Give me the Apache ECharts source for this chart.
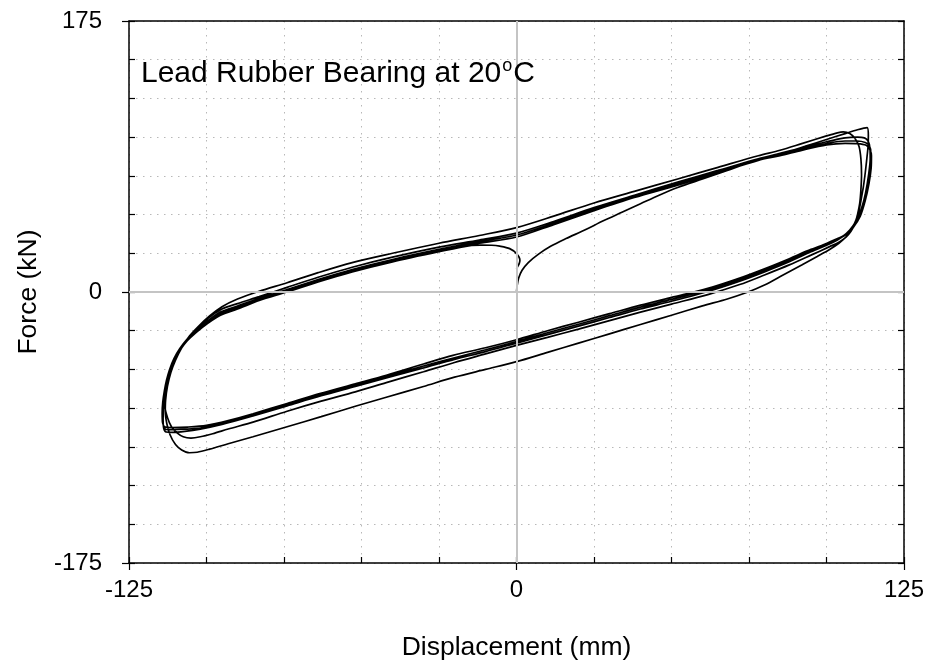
<!DOCTYPE html>
<html>
<head>
<meta charset="utf-8">
<script src="https://cdn.jsdelivr.net/npm/echarts@6/dist/echarts.min.js"></script>
<style>
  html, body { margin: 0; padding: 0; background: #fff; }
  #chart { width: 930px; height: 666px; }
</style>
</head>
<body>
<div id="chart"></div>
<script>
// Axis ranges and labelled ticks
const xRange = [-125, 125];
const yRange = [-175, 175];
const xLabelStep = 125;
const yLabelStep = 175;
const gridStep = 25;

// Hysteresis record, [displacement mm, force kN], in test order
const initialLoading = [
  [0,0],[0.2,4],[0.7,9],[1.8,14],[3.8,19],[7,24.3],[11,29.5],[16,34.5],[22,40],[28,46],
  [34,51.5],[40,57],[46,62.5],[52,67.5],[60,73],[68,78.5],[76,84],[85,89],[93,94],
  [100,98.5],[106,102.3],[110,104.8],[113.1,106.2]
];
const unload1 = [
  [113.5,101],[113.4,94],[113,86],[112.5,77],[111.9,68],[111.2,60],[110.5,53],[109.5,46.5],
  [108.2,41],[106.5,36],[104,31.5],[101,27.5],[97,23],[92,17.5],[86,11],[80,4.5],[74,-0.5],
  [68,-4.5],[60,-9],[50,-15],[40,-21],[30,-27],[20,-33],[10,-39],[0,-45],[-10,-50],[-20,-55],
  [-30,-61],[-42,-68],[-52,-73.8],[-63,-80.5],[-74,-87],[-85,-93.5],[-93,-98],[-99,-101.5],
  [-103,-103.5],[-105.5,-103.8],[-108,-102],[-110,-98.5],[-111.8,-92],[-112.8,-85]
];
const load1 = [
  [-113.3,-77],[-113.2,-70],[-112.6,-61],[-111.5,-52],[-110,-44],[-108,-36],[-105.5,-28.5],
  [-102.5,-22],[-99,-15.5],[-95,-9.5],[-90,-4.5],[-83,0.5],[-74,6],[-64,12.5],[-53,19],
  [-40,25],[-25,31.5],[-12,36.5],[0,41.6],[12,49],[25,57.5],[38,65],[52,73],[65,80.5],
  [78,88],[85,91.5],[92,95.8],[100,100.8],[103.5,102.8],[105.4,103.4],[107.5,102.3],
  [109.2,99.1],[110.5,94],[111.1,86],[111.3,76],[111.1,66],[110.7,57],[110,50],[109.2,44.2],
  [107.9,39.2],[106.3,35.5],[104,32.2],[101,29.3]
];
const unload2 = [
  [95,23.8],[88,17.5],[80,11],[72,4.8],[62,-1.5],[50,-7.8],[40,-13],[30,-18.5],[20,-24],
  [10,-29.3],[0,-34.5],[-10,-40],[-20,-45.5],[-30,-51.5],[-42,-58.5],[-52,-64.5],[-63,-70.5],
  [-74,-77],[-85,-84],[-93,-88.5],[-98,-91.5],[-102,-93.5],[-105,-94.3],[-107.5,-93.5],
  [-109.5,-91],[-111.3,-87],[-112.6,-81]
];
const load2 = [
  [-113.4,-74],[-113.2,-66],[-112.6,-59],[-111.6,-51],[-110.2,-44],[-108.3,-37],[-106,-30.5],
  [-103,-24.5],[-99.5,-17],[-95,-11],[-90,-7.5],[-83,-3],[-74,3],[-64,9.5],[-53,16],
  [-40,22.5],[-25,29],[-12,33.5],[0,38],[12,45.5],[25,54.5],[38,62.5],[52,71],[65,78.5],
  [78,86],[85,89.5],[92,93],[100,97],[106,99.5],[110,100],[112.2,99.5],[113.4,97.5],
  [114,93],[114.1,86],[113.6,76],[112.6,64],[111.3,54],[109.6,46],[107.5,40],[105,35.5],
  [102,32]
];
const unload3 = [
  [95,26],[88,19.5],[80,13],[72,7],[62,0.5],[50,-6],[40,-11],[30,-16.5],[20,-22],[10,-27.5],
  [0,-33],[-10,-38.5],[-20,-43.5],[-30,-49],[-42,-55.5],[-52,-61],[-63,-67],[-74,-73.5],
  [-85,-80],[-95,-85.5],[-102,-88.5],[-107,-90],[-111,-90.6],[-113,-90.4],[-113.8,-88],
  [-114,-82]
];
const load3 = [
  [-113.9,-75],[-113.5,-67],[-112.8,-59],[-111.8,-51],[-110.4,-44],[-108.5,-37],[-106.2,-31],
  [-103.3,-25],[-99.8,-19],[-95.5,-13],[-90,-9],[-83,-4],[-74,1.5],[-64,8],[-53,14.5],
  [-40,21],[-25,27.5],[-12,32.5],[0,36.8],[12,44.5],[25,53.5],[38,61.5],[52,70],[65,77.5],
  [78,85.5],[85,88.5],[92,92],[100,95.8],[106,97.5],[110,97.5],[112.5,96.5],[113.8,94.5],
  [114.3,90],[114.3,83],[113.8,74],[112.8,62],[111.4,52],[109.6,44.5],[107.5,39],[105,35.5],
  [102.5,33]
];
const unload4 = [
  [95,27.5],[88,21.5],[80,15],[72,9],[62,2.5],[50,-3.5],[40,-8.5],[30,-14],[20,-19.5],
  [10,-25],[0,-30.8],[-10,-36],[-20.5,-40.9],[-30,-46.5],[-42,-53.8],[-52,-59.3],[-63.5,-65.6],
  [-74,-72],[-85,-78.6],[-93,-83],[-100,-86.1],[-106,-87.2],[-111,-87.5],[-113.3,-87.2],
  [-114.2,-84],[-114.3,-78]
];
const load4 = [
  [-114.1,-71],[-113.6,-64],[-112.9,-57],[-111.9,-50],[-110.5,-43],[-108.6,-36.5],[-106.3,-30.5],
  [-103.4,-25],[-99.8,-19.5],[-95.5,-14],[-90,-10],[-83,-5],[-74,0.5],[-64,7],[-53,13.5],
  [-40,20],[-25,26.5],[-12,31.5],[0,35.5],[12,43.5],[25,52.5],[38,61],[52,69],[65,77],
  [78,85],[85,88],[92,91.5],[100,95],[106,96],[110,95.8],[112.8,94.7],[114,92],[114.5,88],
  [114.4,80],[113.7,70],[112.5,59],[110.9,49],[108.7,42],[106,37],[103,34]
];
const unload5 = [
  [95,27],[88,20.5],[80,14],[72,8],[62,1.5],[50,-4.8],[40,-9.8],[30,-15.3],[20,-20.8],
  [10,-26.3],[0,-32],[-10,-37.3],[-20,-42.5],[-30,-47.8],[-42,-54.6],[-52,-60.2],[-63,-66.3],
  [-74,-72.8],[-85,-79.3],[-95,-84.8],[-102,-87.8],[-107,-88.6],[-111,-88.9],[-113.2,-88.6],
  [-114,-85.5],[-114.2,-79]
];
const finalLoading = [
  [-114,-72],[-113.5,-65],[-112.8,-58],[-111.8,-51],[-110.4,-44],[-108.5,-37.5],[-106.2,-31.5],
  [-103.3,-26],[-99.8,-20.5],[-95.5,-15],[-90,-11],[-83,-5.5],[-74,0],[-64,6.5],[-53,13],
  [-40,19.5],[-25,26],[-15,30],[-11.8,30.3],[-8,30.2],[-5.4,29.6],[-2.2,28],[0,24.8],
  [1.1,20.5],[0.9,18.5],[0.4,16.5],[0,15]
];

const record = [].concat(
  initialLoading, unload1, load1, unload2, load2, unload3, load3,
  unload4, load4, unload5, finalLoading
);

const FONT = '"Liberation Sans", Arial, Helvetica, sans-serif';
const black = '#000';

const gridLines = {
  show: true,
  lineStyle: { color: '#b8b8b8', width: 1, type: [1.5, 5.5] }
};
const frameLine = { show: true, onZero: false, lineStyle: { color: black, width: 1.5 } };
const innerTick = { show: true, inside: true, length: 6, lineStyle: { color: black, width: 1.2 } };
const outerTick = { show: true, inside: false, length: 7, lineStyle: { color: black, width: 1.2 } };
const noLabel = { show: false };

const chart = echarts.init(document.getElementById('chart'), null, { renderer: 'canvas' });

chart.setOption({
  animation: false,
  backgroundColor: '#fff',
  title: {
    text: '{a|Lead Rubber Bearing at 20}{s|o}{a|C}',
    left: 141,
    top: 57,
    padding: 0,
    textStyle: {
      fontWeight: 'normal',
      rich: {
        a: { fontFamily: FONT, fontSize: 30, fontWeight: 'normal', color: black, lineHeight: 34 },
        s: { fontFamily: FONT, fontSize: 18, fontWeight: 'normal', color: black, lineHeight: 34, verticalAlign: 'top', padding: [0, 1, 0, 1] }
      }
    }
  },
  grid: { left: 129, right: 26, top: 21, bottom: 103, containLabel: false },
  xAxis: [
    {
      type: 'value', min: xRange[0], max: xRange[1], interval: gridStep, position: 'bottom',
      axisLine: frameLine, axisTick: innerTick, axisLabel: noLabel, splitLine: gridLines
    },
    {
      type: 'value', min: xRange[0], max: xRange[1], interval: xLabelStep, position: 'bottom',
      axisLine: { show: false, onZero: false }, axisTick: outerTick,
      axisLabel: { show: true, margin: 15, fontFamily: FONT, fontSize: 24, color: black },
      splitLine: { show: false },
      name: 'Displacement (mm)', nameLocation: 'middle', nameGap: 71,
      nameTextStyle: { fontFamily: FONT, fontSize: 26.5, color: black }
    },
    {
      type: 'value', min: xRange[0], max: xRange[1], interval: gridStep, position: 'top',
      axisLine: frameLine, axisTick: { show: false }, axisLabel: noLabel, splitLine: { show: false }
    }
  ],
  yAxis: [
    {
      type: 'value', min: yRange[0], max: yRange[1], interval: gridStep, position: 'left',
      axisLine: frameLine, axisTick: innerTick, axisLabel: noLabel, splitLine: gridLines
    },
    {
      type: 'value', min: yRange[0], max: yRange[1], interval: yLabelStep, position: 'left',
      axisLine: { show: false, onZero: false }, axisTick: outerTick,
      axisLabel: { show: true, margin: 27, fontFamily: FONT, fontSize: 24, color: black },
      splitLine: { show: false },
      name: 'Force (kN)', nameLocation: 'middle', nameGap: 87, nameRotate: 90,
      nameTextStyle: { fontFamily: FONT, fontSize: 26.5, color: black }
    },
    {
      type: 'value', min: yRange[0], max: yRange[1], interval: gridStep, position: 'right',
      axisLine: frameLine, axisTick: innerTick, axisLabel: noLabel, splitLine: { show: false }
    }
  ],
  series: [
    {
      name: 'zero lines',
      type: 'line',
      data: [],
      z: 1,
      silent: true,
      markLine: {
        silent: true,
        symbol: 'none',
        label: { show: false },
        lineStyle: { color: '#c4c4c4', width: 2, type: 'solid' },
        data: [{ xAxis: 0 }, { yAxis: 0 }]
      }
    },
    {
      name: 'Lead Rubber Bearing',
      type: 'line',
      data: record,
      z: 3,
      showSymbol: false,
      symbol: 'none',
      smooth: 0.3,
      lineStyle: { color: black, width: 1.7 }
    }
  ]
});
</script>
</body>
</html>
